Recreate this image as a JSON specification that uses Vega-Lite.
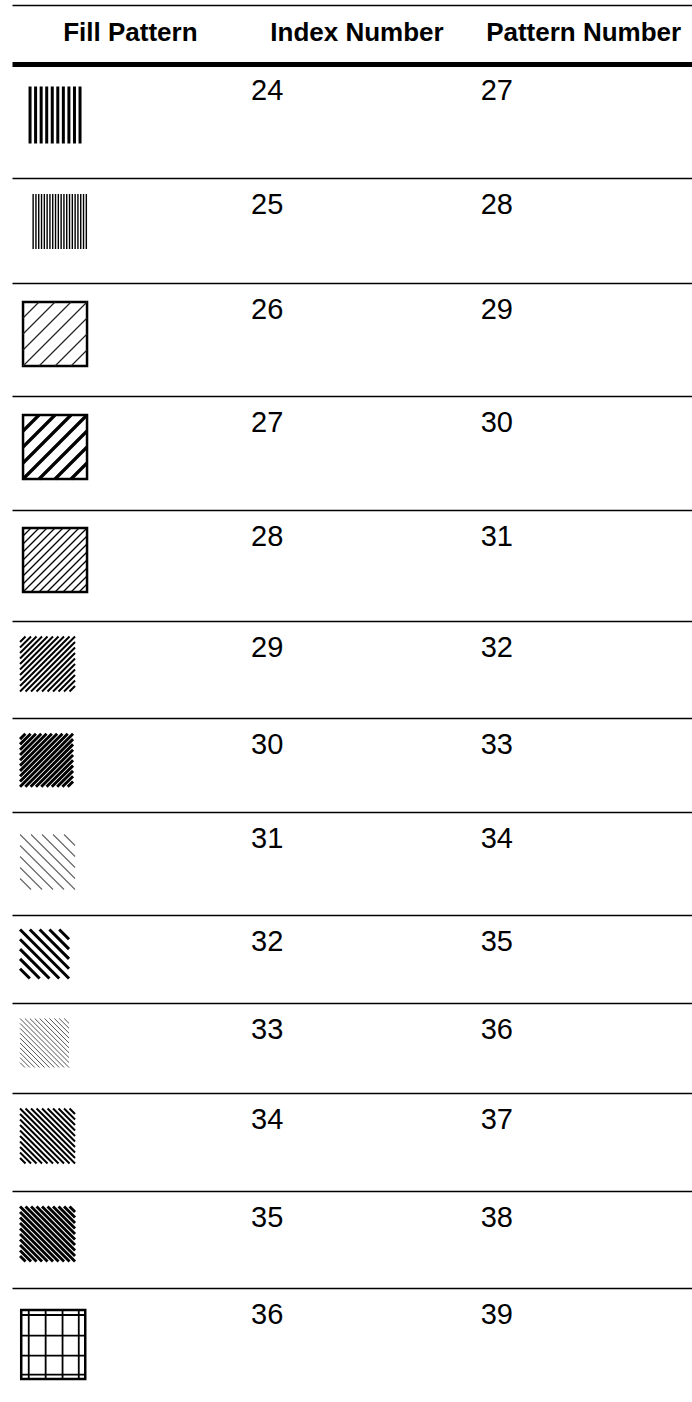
{
  "$schema": "https://vega.github.io/schema/vega-lite/v6.json",
  "background": "white",
  "padding": {"left": 12, "top": 5, "right": 0, "bottom": 0},
  "spacing": 0,
  "bounds": "flush",
  "resolve": {"scale": {"x": "independent"}, "axis": {"x": "independent"}},
  "config": {
    "view": {"stroke": null},
    "axis": {"labels": false, "ticks": false, "grid": false, "domainColor": "black", "domainWidth": 1.5}
  },
  "data": {"values": [
    {"index": 24, "pattern": 27, "fill": "vertical bars"},
    {"index": 25, "pattern": 28, "fill": "fine vertical lines"},
    {"index": 26, "pattern": 29, "fill": "wide forward diagonal, light"},
    {"index": 27, "pattern": 30, "fill": "wide forward diagonal, heavy"},
    {"index": 28, "pattern": 31, "fill": "narrow forward diagonal"},
    {"index": 29, "pattern": 32, "fill": "dense forward diagonal"},
    {"index": 30, "pattern": 33, "fill": "dark forward diagonal"},
    {"index": 31, "pattern": 34, "fill": "wide backward diagonal, light"},
    {"index": 32, "pattern": 35, "fill": "wide backward diagonal, heavy"},
    {"index": 33, "pattern": 36, "fill": "narrow backward diagonal"},
    {"index": 34, "pattern": 37, "fill": "dense backward diagonal"},
    {"index": 35, "pattern": 38, "fill": "dark backward diagonal"},
    {"index": 36, "pattern": 39, "fill": "grid"}
  ]},
  "vconcat": [
    {
      "width": 680, "height": 59,
      "data": {"values": [{"column": "Fill Pattern"}, {"column": "Index Number"}, {"column": "Pattern Number"}]},
      "mark": {"type": "text", "font": "Liberation Sans", "fontSize": 26, "fontWeight": "bold", "align": "center", "baseline": "alphabetic", "dx": 5, "yOffset": 6.5, "fill": "black"},
      "encoding": {
        "x": {"field": "column", "type": "nominal", "title": null, "scale": {"type": "band", "domain": ["Fill Pattern", "Index Number", "Pattern Number"], "paddingInner": 0, "paddingOuter": 0}, "axis": {"orient": "top"}},
        "text": {"field": "column", "type": "nominal"}
      }
    },
    {
      "width": 680, "height": 114,
      "transform": [{"filter": "datum.index == 24"}],
      "layer": [
        {"mark": {"type": "point", "shape": "M-0.877,-1L-0.877,1M-0.682,-1L-0.682,1M-0.487,-1L-0.487,1M-0.292,-1L-0.292,1M-0.097,-1L-0.097,1M0.097,-1L0.097,1M0.292,-1L0.292,1M0.487,-1L0.487,1M0.682,-1L0.682,1M0.877,-1L0.877,1", "size": 3249, "filled": false, "stroke": "black", "strokeWidth": 3, "opacity": 1, "xOffset": -70.3, "yOffset": -6},
         "encoding": {"x": {"datum": "Fill Pattern", "type": "nominal", "title": null, "scale": {"type": "band", "domain": ["Fill Pattern", "Index Number", "Pattern Number"], "paddingInner": 0, "paddingOuter": 0}, "axis": {"orient": "top", "domainWidth": 5}}}},
        {"mark": {"type": "text", "font": "Liberation Sans", "fontSize": 29, "align": "left", "baseline": "alphabetic", "dx": -101, "yOffset": -20.6, "fill": "black"},
         "encoding": {"x": {"datum": "Index Number", "type": "nominal", "title": null, "scale": {"type": "band", "domain": ["Fill Pattern", "Index Number", "Pattern Number"], "paddingInner": 0, "paddingOuter": 0}, "axis": {"orient": "top", "domainWidth": 5}}, "text": {"field": "index", "type": "nominal"}}},
        {"mark": {"type": "text", "font": "Liberation Sans", "fontSize": 29, "align": "left", "baseline": "alphabetic", "dx": -98, "yOffset": -20.6, "fill": "black"},
         "encoding": {"x": {"datum": "Pattern Number", "type": "nominal", "title": null, "scale": {"type": "band", "domain": ["Fill Pattern", "Index Number", "Pattern Number"], "paddingInner": 0, "paddingOuter": 0}, "axis": {"orient": "top", "domainWidth": 5}}, "text": {"field": "pattern", "type": "nominal"}}}
      ]
    },
    {
      "width": 680, "height": 105,
      "transform": [{"filter": "datum.index == 25"}],
      "layer": [
        {"mark": {"type": "point", "shape": "M-0.95,-0.98L-0.95,0.98M-0.85,-0.98L-0.85,0.98M-0.75,-0.98L-0.75,0.98M-0.65,-0.98L-0.65,0.98M-0.55,-0.98L-0.55,0.98M-0.45,-0.98L-0.45,0.98M-0.35,-0.98L-0.35,0.98M-0.25,-0.98L-0.25,0.98M-0.15,-0.98L-0.15,0.98M-0.05,-0.98L-0.05,0.98M0.05,-0.98L0.05,0.98M0.15,-0.98L0.15,0.98M0.25,-0.98L0.25,0.98M0.35,-0.98L0.35,0.98M0.45,-0.98L0.45,0.98M0.55,-0.98L0.55,0.98M0.65,-0.98L0.65,0.98M0.75,-0.98L0.75,0.98M0.85,-0.98L0.85,0.98M0.95,-0.98L0.95,0.98", "size": 3136, "filled": false, "stroke": "black", "strokeWidth": 1.4, "opacity": 1, "xOffset": -65.6, "yOffset": -9},
         "encoding": {"x": {"datum": "Fill Pattern", "type": "nominal", "title": null, "scale": {"type": "band", "domain": ["Fill Pattern", "Index Number", "Pattern Number"], "paddingInner": 0, "paddingOuter": 0}, "axis": {"orient": "top"}}}},
        {"mark": {"type": "text", "font": "Liberation Sans", "fontSize": 29, "align": "left", "baseline": "alphabetic", "dx": -101, "yOffset": -16.1, "fill": "black"},
         "encoding": {"x": {"datum": "Index Number", "type": "nominal", "title": null, "scale": {"type": "band", "domain": ["Fill Pattern", "Index Number", "Pattern Number"], "paddingInner": 0, "paddingOuter": 0}, "axis": {"orient": "top"}}, "text": {"field": "index", "type": "nominal"}}},
        {"mark": {"type": "text", "font": "Liberation Sans", "fontSize": 29, "align": "left", "baseline": "alphabetic", "dx": -98, "yOffset": -16.1, "fill": "black"},
         "encoding": {"x": {"datum": "Pattern Number", "type": "nominal", "title": null, "scale": {"type": "band", "domain": ["Fill Pattern", "Index Number", "Pattern Number"], "paddingInner": 0, "paddingOuter": 0}, "axis": {"orient": "top"}}, "text": {"field": "pattern", "type": "nominal"}}}
      ]
    },
    {
      "width": 680, "height": 113,
      "transform": [{"filter": "datum.index == 26"}],
      "layer": [
        {"mark": {"type": "point", "shape": "M-1,-1L1,-1L1,1L-1,1Z", "size": 4096, "filled": false, "stroke": "black", "strokeWidth": 2.5, "opacity": 1, "xOffset": -70.3, "yOffset": -5.5},
         "encoding": {"x": {"datum": "Fill Pattern", "type": "nominal", "title": null, "scale": {"type": "band", "domain": ["Fill Pattern", "Index Number", "Pattern Number"], "paddingInner": 0, "paddingOuter": 0}, "axis": {"orient": "top"}}}},
        {"mark": {"type": "point", "shape": "M-1,-0.5L-0.5,-1M-1,0L0,-1M-1,0.5L0.5,-1M-1,1L1,-1M-0.5,1L1,-0.5M0,1L1,0M0.5,1L1,0.5", "size": 4096, "filled": false, "stroke": "#222222", "strokeWidth": 1.2, "opacity": 1, "xOffset": -70.3, "yOffset": -5.5},
         "encoding": {"x": {"datum": "Fill Pattern", "type": "nominal", "title": null, "scale": {"type": "band", "domain": ["Fill Pattern", "Index Number", "Pattern Number"], "paddingInner": 0, "paddingOuter": 0}, "axis": {"orient": "top"}}}},
        {"mark": {"type": "text", "font": "Liberation Sans", "fontSize": 29, "align": "left", "baseline": "alphabetic", "dx": -101, "yOffset": -20.1, "fill": "black"},
         "encoding": {"x": {"datum": "Index Number", "type": "nominal", "title": null, "scale": {"type": "band", "domain": ["Fill Pattern", "Index Number", "Pattern Number"], "paddingInner": 0, "paddingOuter": 0}, "axis": {"orient": "top"}}, "text": {"field": "index", "type": "nominal"}}},
        {"mark": {"type": "text", "font": "Liberation Sans", "fontSize": 29, "align": "left", "baseline": "alphabetic", "dx": -98, "yOffset": -20.1, "fill": "black"},
         "encoding": {"x": {"datum": "Pattern Number", "type": "nominal", "title": null, "scale": {"type": "band", "domain": ["Fill Pattern", "Index Number", "Pattern Number"], "paddingInner": 0, "paddingOuter": 0}, "axis": {"orient": "top"}}, "text": {"field": "pattern", "type": "nominal"}}}
      ]
    },
    {
      "width": 680, "height": 114,
      "transform": [{"filter": "datum.index == 27"}],
      "layer": [
        {"mark": {"type": "point", "shape": "M-1,-1L1,-1L1,1L-1,1Z", "size": 4096, "filled": false, "stroke": "black", "strokeWidth": 2.5, "opacity": 1, "xOffset": -70.3, "yOffset": -6},
         "encoding": {"x": {"datum": "Fill Pattern", "type": "nominal", "title": null, "scale": {"type": "band", "domain": ["Fill Pattern", "Index Number", "Pattern Number"], "paddingInner": 0, "paddingOuter": 0}, "axis": {"orient": "top"}}}},
        {"mark": {"type": "point", "shape": "M-1,-0.5L-0.5,-1M-1,0L0,-1M-1,0.5L0.5,-1M-1,1L1,-1M-0.5,1L1,-0.5M0,1L1,0M0.5,1L1,0.5", "size": 4096, "filled": false, "stroke": "black", "strokeWidth": 3.2, "opacity": 1, "xOffset": -70.3, "yOffset": -6},
         "encoding": {"x": {"datum": "Fill Pattern", "type": "nominal", "title": null, "scale": {"type": "band", "domain": ["Fill Pattern", "Index Number", "Pattern Number"], "paddingInner": 0, "paddingOuter": 0}, "axis": {"orient": "top"}}}},
        {"mark": {"type": "text", "font": "Liberation Sans", "fontSize": 29, "align": "left", "baseline": "alphabetic", "dx": -101, "yOffset": -20.6, "fill": "black"},
         "encoding": {"x": {"datum": "Index Number", "type": "nominal", "title": null, "scale": {"type": "band", "domain": ["Fill Pattern", "Index Number", "Pattern Number"], "paddingInner": 0, "paddingOuter": 0}, "axis": {"orient": "top"}}, "text": {"field": "index", "type": "nominal"}}},
        {"mark": {"type": "text", "font": "Liberation Sans", "fontSize": 29, "align": "left", "baseline": "alphabetic", "dx": -98, "yOffset": -20.6, "fill": "black"},
         "encoding": {"x": {"datum": "Pattern Number", "type": "nominal", "title": null, "scale": {"type": "band", "domain": ["Fill Pattern", "Index Number", "Pattern Number"], "paddingInner": 0, "paddingOuter": 0}, "axis": {"orient": "top"}}, "text": {"field": "pattern", "type": "nominal"}}}
      ]
    },
    {
      "width": 680, "height": 111,
      "transform": [{"filter": "datum.index == 28"}],
      "layer": [
        {"mark": {"type": "point", "shape": "M-1,-1L1,-1L1,1L-1,1Z", "size": 4096, "filled": false, "stroke": "black", "strokeWidth": 2.5, "opacity": 1, "xOffset": -70.3, "yOffset": -5.5},
         "encoding": {"x": {"datum": "Fill Pattern", "type": "nominal", "title": null, "scale": {"type": "band", "domain": ["Fill Pattern", "Index Number", "Pattern Number"], "paddingInner": 0, "paddingOuter": 0}, "axis": {"orient": "top"}}}},
        {"mark": {"type": "point", "shape": "M-1,-0.75L-0.75,-1M-1,-0.5L-0.5,-1M-1,-0.25L-0.25,-1M-1,0L0,-1M-1,0.25L0.25,-1M-1,0.5L0.5,-1M-1,0.75L0.75,-1M-1,1L1,-1M-0.75,1L1,-0.75M-0.5,1L1,-0.5M-0.25,1L1,-0.25M0,1L1,0M0.25,1L1,0.25M0.5,1L1,0.5M0.75,1L1,0.75", "size": 4096, "filled": false, "stroke": "black", "strokeWidth": 1.3, "opacity": 1, "xOffset": -70.3, "yOffset": -5.5},
         "encoding": {"x": {"datum": "Fill Pattern", "type": "nominal", "title": null, "scale": {"type": "band", "domain": ["Fill Pattern", "Index Number", "Pattern Number"], "paddingInner": 0, "paddingOuter": 0}, "axis": {"orient": "top"}}}},
        {"mark": {"type": "text", "font": "Liberation Sans", "fontSize": 29, "align": "left", "baseline": "alphabetic", "dx": -101, "yOffset": -19.1, "fill": "black"},
         "encoding": {"x": {"datum": "Index Number", "type": "nominal", "title": null, "scale": {"type": "band", "domain": ["Fill Pattern", "Index Number", "Pattern Number"], "paddingInner": 0, "paddingOuter": 0}, "axis": {"orient": "top"}}, "text": {"field": "index", "type": "nominal"}}},
        {"mark": {"type": "text", "font": "Liberation Sans", "fontSize": 29, "align": "left", "baseline": "alphabetic", "dx": -98, "yOffset": -19.1, "fill": "black"},
         "encoding": {"x": {"datum": "Pattern Number", "type": "nominal", "title": null, "scale": {"type": "band", "domain": ["Fill Pattern", "Index Number", "Pattern Number"], "paddingInner": 0, "paddingOuter": 0}, "axis": {"orient": "top"}}, "text": {"field": "pattern", "type": "nominal"}}}
      ]
    },
    {
      "width": 680, "height": 97,
      "transform": [{"filter": "datum.index == 29"}],
      "layer": [
        {"mark": {"type": "point", "shape": "M-1,-0.8L-0.8,-1M-1,-0.6L-0.6,-1M-1,-0.4L-0.4,-1M-1,-0.2L-0.2,-1M-1,0L0,-1M-1,0.2L0.2,-1M-1,0.4L0.4,-1M-1,0.6L0.6,-1M-1,0.8L0.8,-1M-1,1L1,-1M-0.8,1L1,-0.8M-0.6,1L1,-0.6M-0.4,1L1,-0.4M-0.2,1L1,-0.2M0,1L1,0M0.2,1L1,0.2M0.4,1L1,0.4M0.6,1L1,0.6M0.8,1L1,0.8", "size": 3025, "filled": false, "stroke": "black", "strokeWidth": 2, "opacity": 1, "xOffset": -77.8, "yOffset": -5.5},
         "encoding": {"x": {"datum": "Fill Pattern", "type": "nominal", "title": null, "scale": {"type": "band", "domain": ["Fill Pattern", "Index Number", "Pattern Number"], "paddingInner": 0, "paddingOuter": 0}, "axis": {"orient": "top"}}}},
        {"mark": {"type": "text", "font": "Liberation Sans", "fontSize": 29, "align": "left", "baseline": "alphabetic", "dx": -101, "yOffset": -12.1, "fill": "black"},
         "encoding": {"x": {"datum": "Index Number", "type": "nominal", "title": null, "scale": {"type": "band", "domain": ["Fill Pattern", "Index Number", "Pattern Number"], "paddingInner": 0, "paddingOuter": 0}, "axis": {"orient": "top"}}, "text": {"field": "index", "type": "nominal"}}},
        {"mark": {"type": "text", "font": "Liberation Sans", "fontSize": 29, "align": "left", "baseline": "alphabetic", "dx": -98, "yOffset": -12.1, "fill": "black"},
         "encoding": {"x": {"datum": "Pattern Number", "type": "nominal", "title": null, "scale": {"type": "band", "domain": ["Fill Pattern", "Index Number", "Pattern Number"], "paddingInner": 0, "paddingOuter": 0}, "axis": {"orient": "top"}}, "text": {"field": "pattern", "type": "nominal"}}}
      ]
    },
    {
      "width": 680, "height": 94,
      "transform": [{"filter": "datum.index == 30"}],
      "layer": [
        {"mark": {"type": "point", "shape": "M-1,-0.8L-0.8,-1M-1,-0.6L-0.6,-1M-1,-0.4L-0.4,-1M-1,-0.2L-0.2,-1M-1,0L0,-1M-1,0.2L0.2,-1M-1,0.4L0.4,-1M-1,0.6L0.6,-1M-1,0.8L0.8,-1M-1,1L1,-1M-0.8,1L1,-0.8M-0.6,1L1,-0.6M-0.4,1L1,-0.4M-0.2,1L1,-0.2M0,1L1,0M0.2,1L1,0.2M0.4,1L1,0.4M0.6,1L1,0.6M0.8,1L1,0.8", "size": 2809, "filled": false, "stroke": "black", "strokeWidth": 2.9, "opacity": 1, "xOffset": -78.8, "yOffset": -4.7},
         "encoding": {"x": {"datum": "Fill Pattern", "type": "nominal", "title": null, "scale": {"type": "band", "domain": ["Fill Pattern", "Index Number", "Pattern Number"], "paddingInner": 0, "paddingOuter": 0}, "axis": {"orient": "top"}}}},
        {"mark": {"type": "text", "font": "Liberation Sans", "fontSize": 29, "align": "left", "baseline": "alphabetic", "dx": -101, "yOffset": -10.6, "fill": "black"},
         "encoding": {"x": {"datum": "Index Number", "type": "nominal", "title": null, "scale": {"type": "band", "domain": ["Fill Pattern", "Index Number", "Pattern Number"], "paddingInner": 0, "paddingOuter": 0}, "axis": {"orient": "top"}}, "text": {"field": "index", "type": "nominal"}}},
        {"mark": {"type": "text", "font": "Liberation Sans", "fontSize": 29, "align": "left", "baseline": "alphabetic", "dx": -98, "yOffset": -10.6, "fill": "black"},
         "encoding": {"x": {"datum": "Pattern Number", "type": "nominal", "title": null, "scale": {"type": "band", "domain": ["Fill Pattern", "Index Number", "Pattern Number"], "paddingInner": 0, "paddingOuter": 0}, "axis": {"orient": "top"}}, "text": {"field": "pattern", "type": "nominal"}}}
      ]
    },
    {
      "width": 680, "height": 103,
      "transform": [{"filter": "datum.index == 31"}],
      "layer": [
        {"mark": {"type": "point", "shape": "M0.6,-1L1,-0.6M0.2,-1L1,-0.2M-0.2,-1L1,0.2M-0.6,-1L1,0.6M-1,-1L1,1M-1,-0.6L0.6,1M-1,-0.2L0.2,1M-1,0.2L-0.2,1M-1,0.6L-0.6,1", "size": 3025, "filled": false, "stroke": "#666666", "strokeWidth": 1.1, "opacity": 1, "xOffset": -77.8, "yOffset": -1.5},
         "encoding": {"x": {"datum": "Fill Pattern", "type": "nominal", "title": null, "scale": {"type": "band", "domain": ["Fill Pattern", "Index Number", "Pattern Number"], "paddingInner": 0, "paddingOuter": 0}, "axis": {"orient": "top"}}}},
        {"mark": {"type": "text", "font": "Liberation Sans", "fontSize": 29, "align": "left", "baseline": "alphabetic", "dx": -101, "yOffset": -15.1, "fill": "black"},
         "encoding": {"x": {"datum": "Index Number", "type": "nominal", "title": null, "scale": {"type": "band", "domain": ["Fill Pattern", "Index Number", "Pattern Number"], "paddingInner": 0, "paddingOuter": 0}, "axis": {"orient": "top"}}, "text": {"field": "index", "type": "nominal"}}},
        {"mark": {"type": "text", "font": "Liberation Sans", "fontSize": 29, "align": "left", "baseline": "alphabetic", "dx": -98, "yOffset": -15.1, "fill": "black"},
         "encoding": {"x": {"datum": "Pattern Number", "type": "nominal", "title": null, "scale": {"type": "band", "domain": ["Fill Pattern", "Index Number", "Pattern Number"], "paddingInner": 0, "paddingOuter": 0}, "axis": {"orient": "top"}}, "text": {"field": "pattern", "type": "nominal"}}}
      ]
    },
    {
      "width": 680, "height": 88,
      "transform": [{"filter": "datum.index == 32"}],
      "layer": [
        {"mark": {"type": "point", "shape": "M0.6,-1L1,-0.6M0.2,-1L1,-0.2M-0.2,-1L1,0.2M-0.6,-1L1,0.6M-1,-1L1,1M-1,-0.6L0.6,1M-1,-0.2L0.2,1M-1,0.2L-0.2,1M-1,0.6L-0.6,1", "size": 2401, "filled": false, "stroke": "black", "strokeWidth": 3, "opacity": 1, "xOffset": -80.8, "yOffset": -5},
         "encoding": {"x": {"datum": "Fill Pattern", "type": "nominal", "title": null, "scale": {"type": "band", "domain": ["Fill Pattern", "Index Number", "Pattern Number"], "paddingInner": 0, "paddingOuter": 0}, "axis": {"orient": "top"}}}},
        {"mark": {"type": "text", "font": "Liberation Sans", "fontSize": 29, "align": "left", "baseline": "alphabetic", "dx": -101, "yOffset": -7.6, "fill": "black"},
         "encoding": {"x": {"datum": "Index Number", "type": "nominal", "title": null, "scale": {"type": "band", "domain": ["Fill Pattern", "Index Number", "Pattern Number"], "paddingInner": 0, "paddingOuter": 0}, "axis": {"orient": "top"}}, "text": {"field": "index", "type": "nominal"}}},
        {"mark": {"type": "text", "font": "Liberation Sans", "fontSize": 29, "align": "left", "baseline": "alphabetic", "dx": -98, "yOffset": -7.6, "fill": "black"},
         "encoding": {"x": {"datum": "Pattern Number", "type": "nominal", "title": null, "scale": {"type": "band", "domain": ["Fill Pattern", "Index Number", "Pattern Number"], "paddingInner": 0, "paddingOuter": 0}, "axis": {"orient": "top"}}, "text": {"field": "pattern", "type": "nominal"}}}
      ]
    },
    {
      "width": 680, "height": 90,
      "transform": [{"filter": "datum.index == 33"}],
      "layer": [
        {"mark": {"type": "point", "shape": "M0.8,-1L1,-0.8M0.6,-1L1,-0.6M0.4,-1L1,-0.4M0.2,-1L1,-0.2M0,-1L1,0M-0.2,-1L1,0.2M-0.4,-1L1,0.4M-0.6,-1L1,0.6M-0.8,-1L1,0.8M-1,-1L1,1M-1,-0.8L0.8,1M-1,-0.6L0.6,1M-1,-0.4L0.4,1M-1,-0.2L0.2,1M-1,0L0,1M-1,0.2L-0.2,1M-1,0.4L-0.4,1M-1,0.6L-0.6,1M-1,0.8L-0.8,1", "size": 2401, "filled": false, "stroke": "#555555", "strokeWidth": 1, "opacity": 1, "xOffset": -80.8, "yOffset": -5},
         "encoding": {"x": {"datum": "Fill Pattern", "type": "nominal", "title": null, "scale": {"type": "band", "domain": ["Fill Pattern", "Index Number", "Pattern Number"], "paddingInner": 0, "paddingOuter": 0}, "axis": {"orient": "top"}}}},
        {"mark": {"type": "text", "font": "Liberation Sans", "fontSize": 29, "align": "left", "baseline": "alphabetic", "dx": -101, "yOffset": -8.6, "fill": "black"},
         "encoding": {"x": {"datum": "Index Number", "type": "nominal", "title": null, "scale": {"type": "band", "domain": ["Fill Pattern", "Index Number", "Pattern Number"], "paddingInner": 0, "paddingOuter": 0}, "axis": {"orient": "top"}}, "text": {"field": "index", "type": "nominal"}}},
        {"mark": {"type": "text", "font": "Liberation Sans", "fontSize": 29, "align": "left", "baseline": "alphabetic", "dx": -98, "yOffset": -8.6, "fill": "black"},
         "encoding": {"x": {"datum": "Pattern Number", "type": "nominal", "title": null, "scale": {"type": "band", "domain": ["Fill Pattern", "Index Number", "Pattern Number"], "paddingInner": 0, "paddingOuter": 0}, "axis": {"orient": "top"}}, "text": {"field": "pattern", "type": "nominal"}}}
      ]
    },
    {
      "width": 680, "height": 98,
      "transform": [{"filter": "datum.index == 34"}],
      "layer": [
        {"mark": {"type": "point", "shape": "M0.8,-1L1,-0.8M0.6,-1L1,-0.6M0.4,-1L1,-0.4M0.2,-1L1,-0.2M0,-1L1,0M-0.2,-1L1,0.2M-0.4,-1L1,0.4M-0.6,-1L1,0.6M-0.8,-1L1,0.8M-1,-1L1,1M-1,-0.8L0.8,1M-1,-0.6L0.6,1M-1,-0.4L0.4,1M-1,-0.2L0.2,1M-1,0L0,1M-1,0.2L-0.2,1M-1,0.4L-0.4,1M-1,0.6L-0.6,1M-1,0.8L-0.8,1", "size": 3025, "filled": false, "stroke": "black", "strokeWidth": 2, "opacity": 1, "xOffset": -77.8, "yOffset": -6},
         "encoding": {"x": {"datum": "Fill Pattern", "type": "nominal", "title": null, "scale": {"type": "band", "domain": ["Fill Pattern", "Index Number", "Pattern Number"], "paddingInner": 0, "paddingOuter": 0}, "axis": {"orient": "top"}}}},
        {"mark": {"type": "text", "font": "Liberation Sans", "fontSize": 29, "align": "left", "baseline": "alphabetic", "dx": -101, "yOffset": -12.6, "fill": "black"},
         "encoding": {"x": {"datum": "Index Number", "type": "nominal", "title": null, "scale": {"type": "band", "domain": ["Fill Pattern", "Index Number", "Pattern Number"], "paddingInner": 0, "paddingOuter": 0}, "axis": {"orient": "top"}}, "text": {"field": "index", "type": "nominal"}}},
        {"mark": {"type": "text", "font": "Liberation Sans", "fontSize": 29, "align": "left", "baseline": "alphabetic", "dx": -98, "yOffset": -12.6, "fill": "black"},
         "encoding": {"x": {"datum": "Pattern Number", "type": "nominal", "title": null, "scale": {"type": "band", "domain": ["Fill Pattern", "Index Number", "Pattern Number"], "paddingInner": 0, "paddingOuter": 0}, "axis": {"orient": "top"}}, "text": {"field": "pattern", "type": "nominal"}}}
      ]
    },
    {
      "width": 680, "height": 97,
      "transform": [{"filter": "datum.index == 35"}],
      "layer": [
        {"mark": {"type": "point", "shape": "M0.8,-1L1,-0.8M0.6,-1L1,-0.6M0.4,-1L1,-0.4M0.2,-1L1,-0.2M0,-1L1,0M-0.2,-1L1,0.2M-0.4,-1L1,0.4M-0.6,-1L1,0.6M-0.8,-1L1,0.8M-1,-1L1,1M-1,-0.8L0.8,1M-1,-0.6L0.6,1M-1,-0.4L0.4,1M-1,-0.2L0.2,1M-1,0L0,1M-1,0.2L-0.2,1M-1,0.4L-0.4,1M-1,0.6L-0.6,1M-1,0.8L-0.8,1", "size": 3025, "filled": false, "stroke": "black", "strokeWidth": 2.9, "opacity": 1, "xOffset": -77.8, "yOffset": -5.5},
         "encoding": {"x": {"datum": "Fill Pattern", "type": "nominal", "title": null, "scale": {"type": "band", "domain": ["Fill Pattern", "Index Number", "Pattern Number"], "paddingInner": 0, "paddingOuter": 0}, "axis": {"orient": "top"}}}},
        {"mark": {"type": "text", "font": "Liberation Sans", "fontSize": 29, "align": "left", "baseline": "alphabetic", "dx": -101, "yOffset": -12.1, "fill": "black"},
         "encoding": {"x": {"datum": "Index Number", "type": "nominal", "title": null, "scale": {"type": "band", "domain": ["Fill Pattern", "Index Number", "Pattern Number"], "paddingInner": 0, "paddingOuter": 0}, "axis": {"orient": "top"}}, "text": {"field": "index", "type": "nominal"}}},
        {"mark": {"type": "text", "font": "Liberation Sans", "fontSize": 29, "align": "left", "baseline": "alphabetic", "dx": -98, "yOffset": -12.1, "fill": "black"},
         "encoding": {"x": {"datum": "Pattern Number", "type": "nominal", "title": null, "scale": {"type": "band", "domain": ["Fill Pattern", "Index Number", "Pattern Number"], "paddingInner": 0, "paddingOuter": 0}, "axis": {"orient": "top"}}, "text": {"field": "pattern", "type": "nominal"}}}
      ]
    },
    {
      "width": 680, "height": 113,
      "transform": [{"filter": "datum.index == 36"}],
      "layer": [
        {"mark": {"type": "point", "shape": "M-0.928,-1L0.928,-1L0.928,1L-0.928,1Z", "size": 4761, "filled": false, "stroke": "black", "strokeWidth": 2.5, "opacity": 1, "xOffset": -72.1, "yOffset": 0},
         "encoding": {"x": {"datum": "Fill Pattern", "type": "nominal", "title": null, "scale": {"type": "band", "domain": ["Fill Pattern", "Index Number", "Pattern Number"], "paddingInner": 0, "paddingOuter": 0}, "axis": {"orient": "top"}}}},
        {"mark": {"type": "point", "shape": "M-0.71,-1L-0.71,1M-0.22,-1L-0.22,1M0.27,-1L0.27,1M0.74,-1L0.74,1M-0.928,-0.855L0.928,-0.855M-0.928,-0.255L0.928,-0.255M-0.928,0.325L0.928,0.325M-0.928,0.875L0.928,0.875", "size": 4761, "filled": false, "stroke": "black", "strokeWidth": 1.8, "opacity": 1, "xOffset": -72.1, "yOffset": 0},
         "encoding": {"x": {"datum": "Fill Pattern", "type": "nominal", "title": null, "scale": {"type": "band", "domain": ["Fill Pattern", "Index Number", "Pattern Number"], "paddingInner": 0, "paddingOuter": 0}, "axis": {"orient": "top"}}}},
        {"mark": {"type": "text", "font": "Liberation Sans", "fontSize": 29, "align": "left", "baseline": "alphabetic", "dx": -101, "yOffset": -20.1, "fill": "black"},
         "encoding": {"x": {"datum": "Index Number", "type": "nominal", "title": null, "scale": {"type": "band", "domain": ["Fill Pattern", "Index Number", "Pattern Number"], "paddingInner": 0, "paddingOuter": 0}, "axis": {"orient": "top"}}, "text": {"field": "index", "type": "nominal"}}},
        {"mark": {"type": "text", "font": "Liberation Sans", "fontSize": 29, "align": "left", "baseline": "alphabetic", "dx": -98, "yOffset": -20.1, "fill": "black"},
         "encoding": {"x": {"datum": "Pattern Number", "type": "nominal", "title": null, "scale": {"type": "band", "domain": ["Fill Pattern", "Index Number", "Pattern Number"], "paddingInner": 0, "paddingOuter": 0}, "axis": {"orient": "top"}}, "text": {"field": "pattern", "type": "nominal"}}}
      ]
    }
  ]
}
